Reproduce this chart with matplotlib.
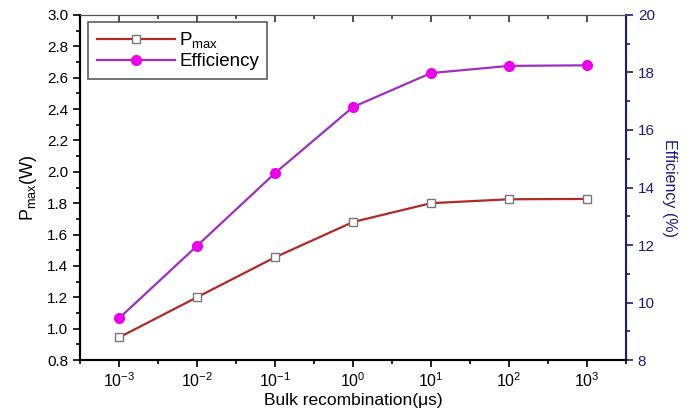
import numpy as np
import matplotlib
matplotlib.use('Agg')
import matplotlib.pyplot as plt
from matplotlib.ticker import FixedLocator, MultipleLocator

plt.rcParams['font.family'] = ['Liberation Sans', 'DejaVu Sans']
plt.rcParams['mathtext.fontset'] = 'custom'
plt.rcParams['mathtext.rm'] = 'Liberation Sans'
plt.rcParams['mathtext.it'] = 'Liberation Sans'
plt.rcParams['mathtext.default'] = 'regular'

# bulk lifetime (us) and results
tau = [1e-3, 1e-2, 1e-1, 1e0, 1e1, 1e2, 1e3]
p_max = [0.944, 1.20, 1.455, 1.68, 1.80, 1.825, 1.827]
efficiency = [9.45, 11.97, 14.5, 16.8, 17.98, 18.23, 18.25]

navy = '#1c1c7a'

fig = plt.figure(figsize=(6.91, 4.13), dpi=100)
ax = fig.add_axes([0.1158, 0.1283, 0.7902, 0.8354])
ax2 = ax.twinx()

l1, = ax.plot(tau, p_max, color='#b02828', lw=1.6, marker='s', ms=6,
              mfc='white', mec='#777777', mew=1.0, label='P$_{max}$')
l2, = ax2.plot(tau, efficiency, color='#9b30c0', lw=1.6, marker='o', ms=7,
               mfc='#ee00ee', mec='#ee00ee', label='Efficiency')

minor_x = [10**(k + 0.5) for k in range(-4, 4)]
ax.set_xscale('log')
ax.set_xlim(10**-3.5, 10**3.5)
ax.xaxis.set_major_locator(FixedLocator(tau))
ax.xaxis.set_major_formatter(plt.FuncFormatter(lambda v, p: '10$^{%d}$' % round(np.log10(v))))
ax.xaxis.set_minor_locator(FixedLocator(minor_x))
ax.set_ylim(0.8, 3.0)
ax.yaxis.set_major_locator(MultipleLocator(0.2))
ax.yaxis.set_minor_locator(MultipleLocator(0.1))
ax.yaxis.set_major_formatter(plt.FuncFormatter(lambda v, p: f'{v:.1f}'))

ax2.set_ylim(8, 20)
ax2.yaxis.set_major_locator(MultipleLocator(2))
ax2.yaxis.set_minor_locator(MultipleLocator(1))

ax.tick_params(axis='both', which='major', direction='out', length=5, width=1.2, labelsize=11)
ax.tick_params(axis='both', which='minor', direction='out', length=3, width=1.2)
ax.tick_params(axis='x', pad=3, labelsize=11.5)
ax2.tick_params(axis='y', which='major', direction='out', length=5, width=1.2,
                colors=navy, labelsize=11)
ax2.tick_params(axis='y', which='minor', direction='out', length=3, width=1.2, colors=navy)

# inward ticks along the top edge, via the twin's shared x axis
ax2.xaxis.set_visible(True)
ax2.tick_params(axis='x', which='both', top=True, bottom=False, labeltop=False,
                labelbottom=False, direction='in', width=1.2, color='#333333')
ax2.tick_params(axis='x', which='major', length=5)
ax2.tick_params(axis='x', which='minor', length=3)

for s in ['left', 'bottom']:
    ax.spines[s].set_linewidth(1.5)
ax.spines['top'].set_color('#555555')
ax2.spines['top'].set_color('#555555')
ax2.spines['right'].set_color(navy)
ax2.spines['right'].set_linewidth(1.5)
ax2.spines['left'].set_linewidth(1.5)
ax2.spines['bottom'].set_linewidth(1.5)

ax.set_xlabel('Bulk recombination(\u03bcs)', fontsize=12.5, labelpad=2)
ax.set_ylabel('P$_{max}$(W)', fontsize=13, labelpad=6)
ax2.set_ylabel('Efficiency (%)', fontsize=11.5, color=navy, rotation=270, labelpad=16)

leg = ax.legend(handles=[l1, l2], loc='upper left', bbox_to_anchor=(0.015, 0.98),
                fontsize=13.5, frameon=True, fancybox=False, edgecolor='#333333',
                handlelength=4.2, handletextpad=0.2, labelspacing=0.15, borderpad=0.45,
                borderaxespad=0.0)
leg.get_frame().set_linewidth(1.2)

fig.savefig('out.png', dpi=100)
